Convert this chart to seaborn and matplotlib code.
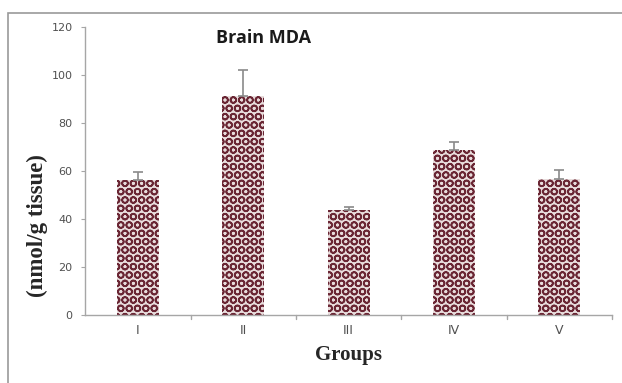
import matplotlib
matplotlib.use("Agg")
import matplotlib.pyplot as plt
from matplotlib.patches import Rectangle
import seaborn as sns
import pandas as pd

groups = ["I", "II", "III", "IV", "V"]
mda = [56, 91, 43.5, 68.5, 56.5]
sem = [3.5, 11, 1.5, 3.5, 4]

df = pd.DataFrame({"group": groups, "mda": mda})

sns.set_style("white")
plt.rcParams["hatch.linewidth"] = 1.2
plt.rcParams["hatch.color"] = "#6a2634"

fig = plt.figure(figsize=(6.22, 3.83), dpi=100)
ax = fig.add_axes([0.137, 0.178, 0.847, 0.752])

sns.barplot(data=df, x="group", y="mda", ax=ax, color="#e8dcdc",
            width=0.4, saturation=1, errorbar=None)
for p in ax.patches:
    p.set_hatch("OO")
    p.set_edgecolor("#6a2634")
    p.set_linewidth(0)

ax.errorbar(range(len(groups)), mda, yerr=[[0] * len(sem), sem], fmt="none",
            ecolor="#8a8a8a", elinewidth=1.2, capsize=3.5, capthick=1.2)

ax.set_ylim(0, 120)
ax.set_xlim(-0.5, len(groups) - 0.5)
ax.set_yticks(range(0, 121, 20))
ax.set_xticks(range(len(groups)))
ax.set_xticklabels(groups)

for side in ("top", "right"):
    ax.spines[side].set_visible(False)
for side in ("left", "bottom"):
    ax.spines[side].set_color("#a6a6a6")
    ax.spines[side].set_linewidth(1)

ax.tick_params(axis="y", left=True, length=3, color="#a6a6a6", labelsize=8,
               labelcolor="#505050", pad=6)
ax.tick_params(axis="x", bottom=False, labelsize=9, labelcolor="#505050", pad=3)
# small ticks on category boundaries
for b in [i + 0.5 for i in range(len(groups))]:
    ax.plot([b, b], [0, -1.8], color="#a6a6a6", lw=1, clip_on=False)

ax.set_ylabel("(nmol/g tissue)", fontfamily="Liberation Serif",
              fontweight="bold", fontsize=16.5)
ax.yaxis.set_label_coords(-0.07, 0.31)
ax.set_xlabel("Groups", fontfamily="Liberation Serif", fontweight="bold",
              fontsize=15, labelpad=6)
ax.text(0.338, 0.962, "Brain MDA", transform=ax.transAxes, ha="center",
        va="center", fontsize=13, fontweight="bold", color="#1a1a1a",
        fontfamily="Open Sans")

fig.add_artist(Rectangle((8 / 622, -0.2), 1.2, 1 - 13 / 383 + 0.2,
                         transform=fig.transFigure, fill=False,
                         edgecolor="#9a9a9a", linewidth=1.2))

fig.savefig("out.png", dpi=100)
